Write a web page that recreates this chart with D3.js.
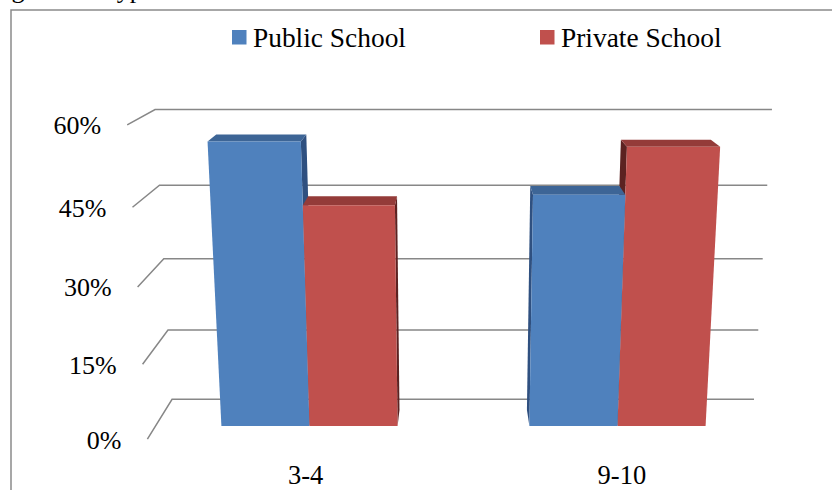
<!DOCTYPE html>
<html><head><meta charset="utf-8">
<script src="https://cdn.jsdelivr.net/npm/d3@7"></script>
<style>
body{margin:0;background:#fff}
svg{display:block}
text{font-family:"Liberation Serif","Times New Roman",serif;fill:#000}
</style>
</head><body><svg id="chart" width="832" height="490"></svg>
<script>
// ---- data ----
const categories = ["3-4", "9-10"];
const seriesNames = ["Public School", "Private School"];
const publicValues = [56, 46];
const privateValues = [44, 55];
const yTickValues = [0, 15, 30, 45, 60];
const yTickLabels = ["0%", "15%", "30%", "45%", "60%"];
const captionText = "Percentage of all Type";

// ---- styles ----
const faceColors = {
  "Public School": {front: "#4F81BD", top: "#3D6596", side: "#2F5080"},
  "Private School": {front: "#C0504D", top: "#943B39", side: "#5C2221"}
};
const gridColor = "#878787";

// ---- 3D world + camera ----
const X_LEFT = -0.979, X_RIGHT = 1.0345, DEPTH = 0.379;
const cam = {f: 1320, theta: 15 * Math.PI / 180, cx: 455, cy: 297, Yc: 1.524, Zc: -3.941};
const cosT = Math.cos(cam.theta), sinT = Math.sin(cam.theta);
function project(p) {
  const [X, Y, Z] = p;
  const A = Y - cam.Yc, B = Z - cam.Zc;
  const d = B * cosT - A * sinT;
  const u = A * cosT + B * sinT;
  return [cam.cx + cam.f * X / d, cam.cy - cam.f * u / d];
}

// ---- scales ----
const y = d3.scaleLinear().domain([0, 60]).range([0, 1]);
const x = d3.scaleBand().domain(categories).range([X_LEFT, X_RIGHT]).paddingInner(0.428).paddingOuter(0.214);
const xs = d3.scaleBand().domain(seriesNames).range([0, x.bandwidth()]);
const z = d3.scaleLinear().domain([0, 1]).range([0, DEPTH]);
const barDepth = [z(0.31), z(0.716)];

const svg = d3.select("#chart");

// caption (cut off at top)
svg.append("text").attr("x", -78).attr("y", -2).attr("font-size", 26).text(captionText);

// frame
svg.append("path").attr("d", "M11,492 L11,10 L834,10")
  .attr("fill", "none").attr("stroke", "#8a8a8a").attr("stroke-width", 1.5);

// gridlines (side wall + back wall)
const gridLine = d3.line();
svg.append("g").selectAll("path").data(yTickValues).join("path")
  .attr("d", t => gridLine([
    project([X_LEFT, y(t), 0]),
    project([X_LEFT, y(t), DEPTH]),
    project([X_RIGHT, y(t), DEPTH])
  ]))
  .attr("fill", "none").attr("stroke", gridColor).attr("stroke-width", 1.5);

// y tick labels
svg.append("g").selectAll("text").data(yTickValues).join("text")
  .attr("x", t => project([X_LEFT, y(t), 0])[0] - 26)
  .attr("y", t => project([X_LEFT, y(t), 0])[1] + 9.5)
  .attr("text-anchor", "end").attr("font-size", 26)
  .text((t, i) => yTickLabels[i]);

// bars
const bars = categories.flatMap((c, i) => seriesNames.map((s, j) => {
  const v = j === 0 ? publicValues[i] : privateValues[i];
  const x0 = x(c) + xs(s), x1 = x0 + xs.bandwidth();
  return {c, s, v, x0, x1};
}));
bars.sort((a, b) => Math.abs(b.x0 + b.x1) - Math.abs(a.x0 + a.x1));

const poly = pts => pts.map(p => project(p).join(",")).join(" ");
const barG = svg.append("g").selectAll("g").data(bars).join("g");
barG.each(function(d) {
  const g = d3.select(this);
  const h = y(d.v), [z0, z1] = barDepth;
  const col = faceColors[d.s];
  let sx = null;
  if (d.x1 < 0) sx = d.x1; else if (d.x0 > 0) sx = d.x0;
  if (sx !== null) {
    g.append("polygon").attr("fill", col.side)
      .attr("points", poly([[sx, 0, z0], [sx, 0, z1], [sx, h, z1], [sx, h, z0]]));
  }
  g.append("polygon").attr("fill", col.top)
    .attr("points", poly([[d.x0, h, z0], [d.x1, h, z0], [d.x1, h, z1], [d.x0, h, z1]]));
  g.append("polygon").attr("fill", col.front)
    .attr("points", poly([[d.x0, 0, z0], [d.x1, 0, z0], [d.x1, h, z0], [d.x0, h, z0]]));
});

// category labels
svg.append("g").selectAll("text").data(categories).join("text")
  .attr("x", c => project([x(c) + x.bandwidth() / 2, 0, 0])[0])
  .attr("y", c => project([x(c) + x.bandwidth() / 2, 0, 0])[1] + 45)
  .attr("text-anchor", "middle").attr("font-size", 26.5)
  .text(c => c);

// legend
const legendX = [232, 540];
const legend = svg.append("g").selectAll("g").data(seriesNames).join("g")
  .attr("transform", (s, i) => `translate(${legendX[i]},30)`);
legend.append("rect").attr("width", 14.5).attr("height", 14.5).attr("fill", s => faceColors[s].front);
legend.append("text").attr("x", 21).attr("y", 17.3).attr("font-size", 27.4).text(s => s);
</script>
</body></html>
